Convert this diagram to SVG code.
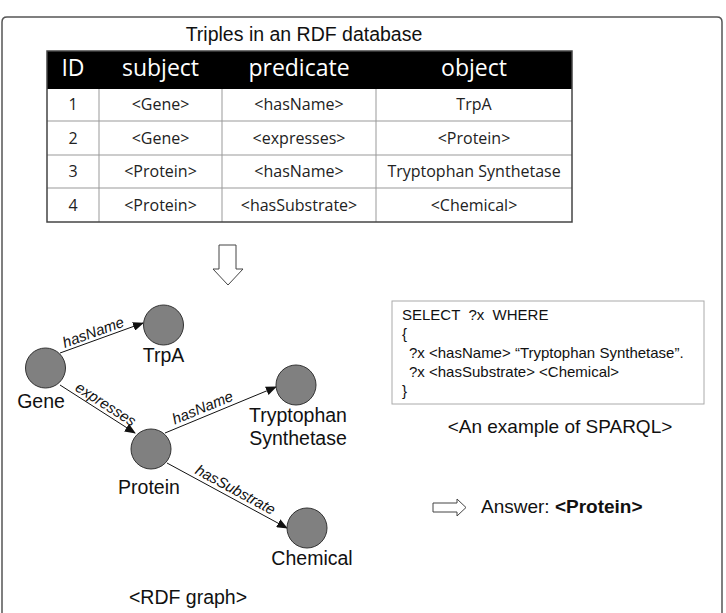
<svg xmlns="http://www.w3.org/2000/svg" width="726" height="613" viewBox="0 0 726 613">
<style>
.sans{font-family:"Liberation Sans",Arial,sans-serif;fill:#111}
.tb{font-family:"Open Sans","DejaVu Sans",sans-serif;font-size:16px;fill:#222;text-anchor:middle}
.th{font-family:"Open Sans","DejaVu Sans",sans-serif;font-size:23px;fill:#fff;text-anchor:middle}
.node circle{fill:#808080;stroke:#333;stroke-width:1}
.node text{font-family:"Liberation Sans",Arial,sans-serif;font-size:19.5px;fill:#111;text-anchor:middle}
.edge line{stroke:#111;stroke-width:1;marker-end:url(#ah)}
.edge text{font-family:"Liberation Sans",Arial,sans-serif;font-size:15px;font-style:italic;fill:#111;text-anchor:middle}
.grid{stroke:#999;stroke-width:1}
</style>
<defs>
<marker id="ah" markerWidth="11" markerHeight="9" refX="10" refY="4.5" orient="auto" markerUnits="userSpaceOnUse">
<path d="M0,0 L11,4.5 L0,9 Z" fill="#111"/>
</marker>
</defs>
<rect width="726" height="613" fill="#fff"/>
<path d="M2,630 V22 Q2,17 7,17 H717 Q722,17 722,22 V630" fill="none" stroke="#555" stroke-width="1.5"/>

<g id="table">
<text class="sans" x="304" y="41" font-size="19.5" text-anchor="middle">Triples in an RDF database</text>
<rect x="47" y="51" width="525" height="38" fill="#000"/>
<text class="th" x="73" y="76">ID</text>
<text class="th" x="160.5" y="76">subject</text>
<text class="th" x="299" y="76">predicate</text>
<text class="th" x="474" y="76">object</text>
<line class="grid" x1="47" y1="121" x2="572" y2="121"/>
<line class="grid" x1="47" y1="155" x2="572" y2="155"/>
<line class="grid" x1="47" y1="188" x2="572" y2="188"/>
<line class="grid" x1="99" y1="89" x2="99" y2="222"/>
<line class="grid" x1="222" y1="89" x2="222" y2="222"/>
<line class="grid" x1="376" y1="89" x2="376" y2="222"/>
<rect x="47" y="51" width="525" height="171" fill="none" stroke="#444" stroke-width="1.5"/>
<text class="tb" x="73" y="110">1</text>
<text class="tb" x="160.5" y="110">&lt;Gene&gt;</text>
<text class="tb" x="299" y="110">&lt;hasName&gt;</text>
<text class="tb" x="474" y="110">TrpA</text>
<text class="tb" x="73" y="144">2</text>
<text class="tb" x="160.5" y="144">&lt;Gene&gt;</text>
<text class="tb" x="299" y="144">&lt;expresses&gt;</text>
<text class="tb" x="474" y="144">&lt;Protein&gt;</text>
<text class="tb" x="73" y="177">3</text>
<text class="tb" x="160.5" y="177">&lt;Protein&gt;</text>
<text class="tb" x="299" y="177">&lt;hasName&gt;</text>
<text class="tb" x="474" y="177">Tryptophan Synthetase</text>
<text class="tb" x="73" y="211">4</text>
<text class="tb" x="160.5" y="211">&lt;Protein&gt;</text>
<text class="tb" x="299" y="211">&lt;hasSubstrate&gt;</text>
<text class="tb" x="474" y="211">&lt;Chemical&gt;</text>
</g>

<g id="down-arrow">
<path d="M219,245 H236 V269 H243 L228,285 L213,269 H219 Z" fill="#fff" stroke="#444" stroke-width="1"/>
</g>

<g id="connectors">
<g class="edge">
<line x1="60" y1="353" x2="143" y2="323"/>
<text transform="translate(95,337) rotate(-19.9)">hasName</text>
</g>
<g class="edge">
<line x1="60" y1="385" x2="135" y2="433"/>
<text transform="translate(103,408.5) rotate(32.6)">expresses</text>
</g>
<g class="edge">
<line x1="165" y1="433" x2="276" y2="387"/>
<text transform="translate(204.5,412.3) rotate(-22.5)">hasName</text>
</g>
<g class="edge">
<line x1="167" y1="463" x2="287" y2="528"/>
<text transform="translate(233,494.2) rotate(28.4)">hasSubstrate</text>
</g>
</g>

<g id="node-gene" class="node">
<circle cx="45.5" cy="368" r="20"/>
<text x="41" y="408">Gene</text>
</g>
<g id="node-trpa" class="node">
<circle cx="163.5" cy="325" r="20"/>
<text x="163.5" y="362">TrpA</text>
</g>
<g id="node-protein" class="node">
<circle cx="151" cy="449" r="20"/>
<text x="149" y="494">Protein</text>
</g>
<g id="node-tryptophan" class="node">
<circle cx="296" cy="385" r="20"/>
<text x="298" y="422">Tryptophan</text>
<text x="298" y="445">Synthetase</text>
</g>
<g id="node-chemical" class="node">
<circle cx="307" cy="528" r="20"/>
<text x="312" y="565">Chemical</text>
</g>
<text class="sans" x="188" y="604" font-size="19.5" text-anchor="middle">&lt;RDF graph&gt;</text>

<g id="sparql">
<rect x="392" y="301" width="312" height="103" fill="#fff" stroke="#aaa" stroke-width="1"/>
<text class="sans" font-size="15" xml:space="preserve"><tspan x="402" y="320">SELECT  ?x  WHERE</tspan><tspan x="402" y="339">{</tspan><tspan x="409" y="358">?x &lt;hasName&gt; “Tryptophan Synthetase”.</tspan><tspan x="409" y="377">?x &lt;hasSubstrate&gt; &lt;Chemical&gt;</tspan><tspan x="402" y="396">}</tspan></text>
<text class="sans" x="560" y="433" font-size="19" text-anchor="middle">&lt;An example of SPARQL&gt;</text>
</g>

<g id="answer">
<path d="M433,503 H457 V499 L466,507.5 L457,516 V512 H433 Z" fill="#fff" stroke="#444" stroke-width="1"/>
<text class="sans" x="481" y="513" font-size="19">Answer: <tspan font-weight="bold">&lt;Protein&gt;</tspan></text>
</g>
</svg>
